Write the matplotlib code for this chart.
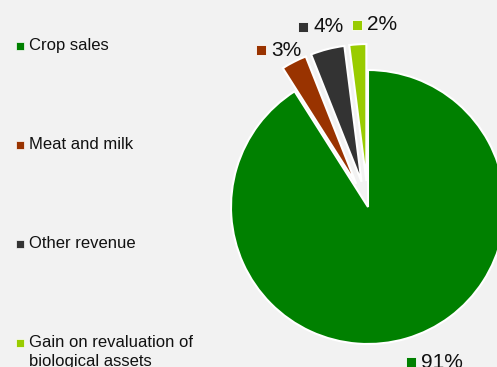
import matplotlib.pyplot as plt

# revenue breakdown
categories = ['Crop sales', 'Meat and milk', 'Other revenue',
              'Gain on revaluation of\nbiological assets']
shares = [91, 3, 4, 2]
colors = ['#008000', '#993300', '#333333', '#99cc00']

W, H = 497, 367
bg = '#f2f2f2'

fig = plt.figure(figsize=(W / 100, H / 100), dpi=100, facecolor=bg)
ax = fig.add_axes([0, 0, 1, 1])
ax.set_xlim(0, W)
ax.set_ylim(0, H)
ax.set_facecolor(bg)
ax.axis('off')

# pie in pixel units, small slices pulled out
explode = [0, 26, 26, 26]
wedges, _ = ax.pie(shares, colors=colors, explode=explode, startangle=90,
                   counterclock=False, center=(368, H - 207), radius=137,
                   wedgeprops=dict(edgecolor='white', linewidth=1.5))
ax.set_xlim(0, W)
ax.set_ylim(0, H)
ax.set_aspect('equal')

# data labels with colour keys (positions measured from the top)
label_xy = [(411, 362), (261, 50), (303, 27), (357, 25)]
for v, c, (x, y) in zip(shares, colors, label_xy):
    ax.plot(x, H - y, 's', ms=7.5, color=c, mec='white', mew=0.6)
    ax.text(x + 10, H - y, f'{v}%', fontsize=15, family='Liberation Sans',
            va='center', ha='left', color='#111111')

# legend down the left side
for i, (name, c) in enumerate(zip(categories, colors)):
    y = 46 + i * 99
    ax.plot(19.5, H - y + 0.5, 's', ms=5.8, color=c, mec='white', mew=0.5)
    ax.text(29, H - y + 8, name, fontsize=12, family='Liberation Sans',
            va='top', ha='left', color='#111111', linespacing=1.35)

fig.savefig('out.png', dpi=100, facecolor=bg)
